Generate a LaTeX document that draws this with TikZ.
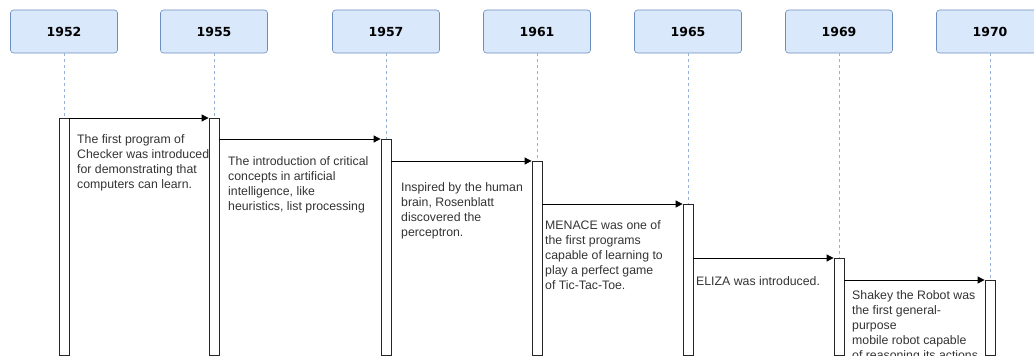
\documentclass[tikz,border=0pt]{standalone}
\usepackage{fontspec}
\setmainfont{Liberation Sans}
\newfontfamily\yearfont{DejaVu Sans}
\usetikzlibrary{arrows.meta,positioning}
\definecolor{yearfill}{HTML}{DAE8FC}
\definecolor{yearline}{HTML}{6C8EBF}
\definecolor{notetext}{HTML}{333333}
\tikzset{
  year/.style={draw=yearline, fill=yearfill, rounded corners=3pt, minimum width=107pt,
    minimum height=43pt, line width=0.6pt, font=\yearfont\bfseries\fontsize{12.5}{15}\selectfont},
  life/.style={draw=yearline!70, dash pattern=on 3pt off 3pt, line width=0.6pt},
  bar/.style={draw=black!85, fill=white, minimum width=10pt, inner sep=0pt, line width=0.8pt, anchor=north},
  msg/.style={-{Triangle[length=7pt,width=7pt]}, line width=0.8pt},
  note/.style={anchor=north west, inner sep=0pt, align=left, text=notetext,
    font=\fontsize{12.3}{15.2}\selectfont},
}
\begin{document}
\begin{tikzpicture}[x=1pt,y=-1pt]
  \pgfmathsetmacro {\yh}{31.5}  %header centre line
  \pgfmathsetmacro {\yb}{354.5} %bottom of activation bars
  \useasboundingbox (0,0) rectangle (1034,356);

  %Year headers
  \node[year] (y1952) at (64,\yh)  {1952};
  \node[year] (y1955) at (214,\yh) {1955};
  \node[year] (y1957) at (386,\yh) {1957};
  \node[year] (y1961) at (537,\yh) {1961};
  \node[year] (y1965) at (688,\yh) {1965};
  \node[year] (y1969) at (839,\yh) {1969};
  \node[year] (y1970) at (990,\yh) {1970};

  %Activation bars
  \node[bar, minimum height=\yb-118pt] (a1952) at (64,118)  {};
  \node[bar, minimum height=\yb-118pt] (a1955) at (214,118) {};
  \node[bar, minimum height=\yb-139pt] (a1957) at (386,139) {};
  \node[bar, minimum height=\yb-161pt] (a1961) at (537,161) {};
  \node[bar, minimum height=\yb-204pt] (a1965) at (688,204) {};
  \node[bar, minimum height=\yb-258pt] (a1969) at (839,258) {};
  \node[bar, minimum height=\yb-280pt] (a1970) at (990,280) {};

  %Lifelines
  \draw[life] (y1952.south) -- (a1952.north);
  \draw[life] (y1955.south) -- (a1955.north);
  \draw[life] (y1957.south) -- (a1957.north);
  \draw[life] (y1961.south) -- (a1961.north);
  \draw[life] (y1965.south) -- (a1965.north);
  \draw[life] (y1969.south) -- (a1969.north);
  \draw[life] (y1970.south) -- (a1970.north);

  %Messages from one year to the next
  \draw[msg] (a1952.north east) -- (a1955.north west);
  \draw[msg] (a1955.east |- a1957.north) -- (a1957.north west);
  \draw[msg] (a1957.east |- a1961.north) -- (a1961.north west);
  \draw[msg] (a1961.east |- a1965.north) -- (a1965.north west);
  \draw[msg] (a1965.east |- a1969.north) -- (a1969.north west);
  \draw[msg] (a1969.east |- a1970.north) -- (a1970.north west);

  %Notes under the messages
  \node[note] (n1952) at (77,134)  {The first program of\\Checker was introduced\\for demonstrating that\\computers can learn.};
  \node[note] (n1955) at (228,156) {The introduction of critical\\concepts in artificial\\intelligence, like\\heuristics, list processing};
  \node[note] (n1957) at (401,182) {Inspired by the human\\brain, Rosenblatt\\discovered the\\perceptron.};
  \node[note] (n1961) at (545,220) {MENACE was one of\\the first programs\\capable of learning to\\play a perfect game\\of Tic-Tac-Toe.};
  \node[note] (n1965) at (696,276) {ELIZA was introduced.};
  \node[note] (n1969) at (852,290) {Shakey the Robot was\\the first general-\\purpose\\mobile robot capable\\of reasoning its actions};
\end{tikzpicture}
\end{document}
